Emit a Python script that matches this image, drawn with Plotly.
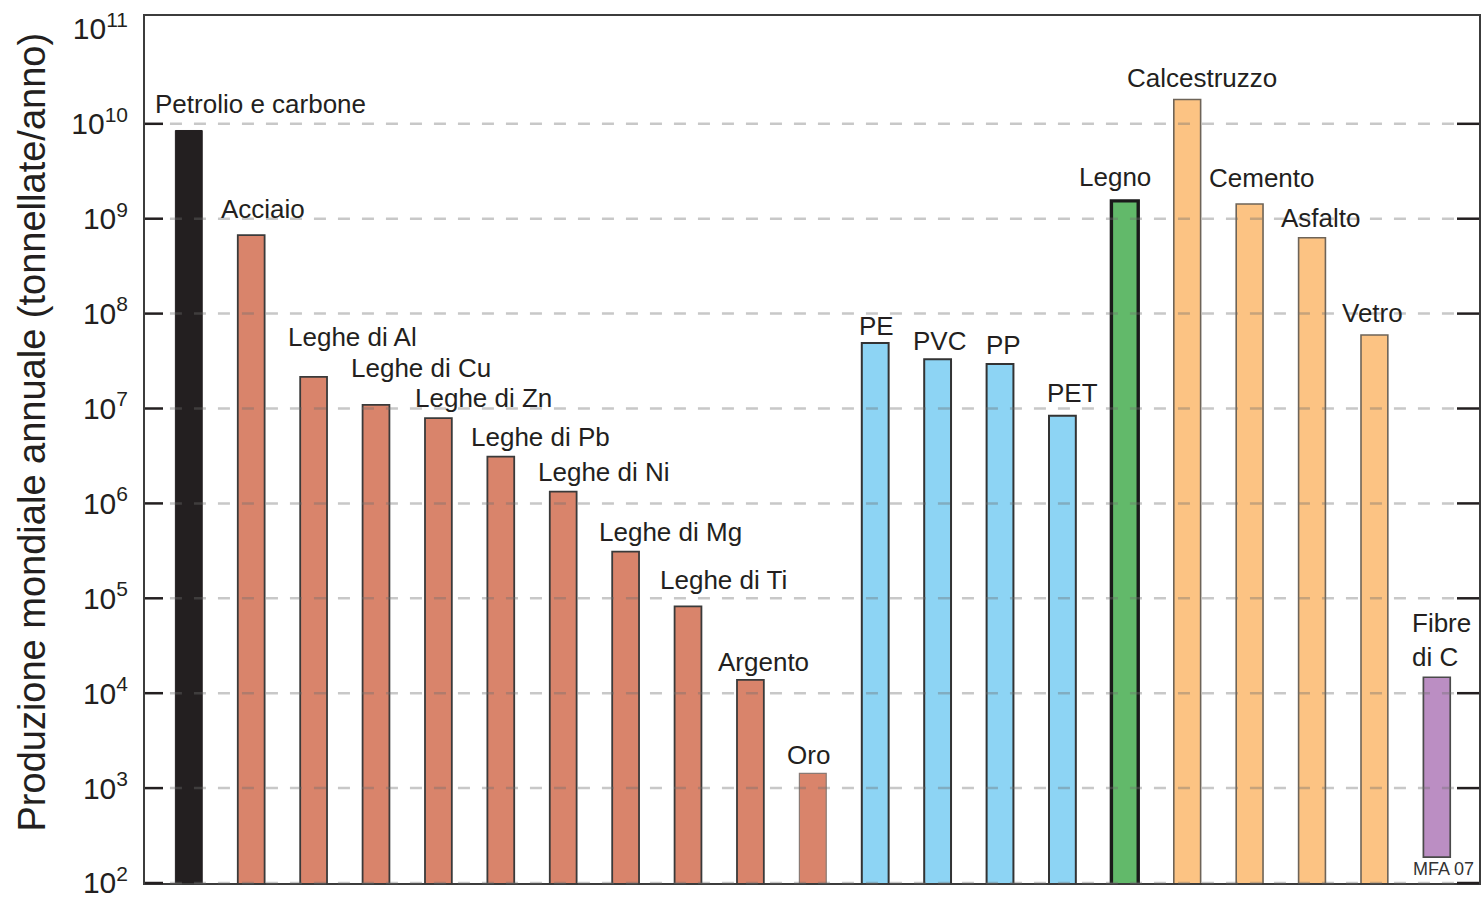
import numpy as np
import plotly.graph_objects as go

# ---------------- data ----------------
categories = ["Petrolio e carbone", "Acciaio", "Leghe di Al", "Leghe di Cu", "Leghe di Zn",
              "Leghe di Pb", "Leghe di Ni", "Leghe di Mg", "Leghe di Ti", "Argento", "Oro",
              "PE", "PVC", "PP", "PET", "Legno", "Calcestruzzo", "Cemento", "Asfalto",
              "Vetro", "Fibre di C"]
values = [8.5e9, 6.7e8, 2.15e7, 1.09e7, 7.9e6, 3.1e6, 1.33e6, 3.1e5, 8.2e4, 1.38e4, 1.43e3,
          4.9e7, 3.3e7, 2.95e7, 8.4e6, 1.54e9, 1.8e10, 1.43e9, 6.3e8, 5.95e7, 1.47e4]
bases = [None] * 20 + [187]
label_texts = ["Petrolio e carbone", "Acciaio", "Leghe di Al", "Leghe di Cu", "Leghe di Zn",
               "Leghe di Pb", "Leghe di Ni", "Leghe di Mg", "Leghe di Ti", "Argento", "Oro",
               "PE", "PVC", "PP", "PET", "Legno", "Calcestruzzo", "Cemento", "Asfalto",
               "Vetro", "Fibre<br>di C"]
tick_exponents = [2, 3, 4, 5, 6, 7, 8, 9, 10, 11]

# ---------------- styles ----------------
BLACK = "#231f20"
SALMON = "#d9846b"
BLUE = "#8dd4f4"
GREEN = "#62b96a"
ORANGE = "#fcc383"
PURPLE = "#bb8ec3"
colors = [BLACK] + [SALMON] * 10 + [BLUE] * 4 + [GREEN] + [ORANGE] * 4 + [PURPLE]
line_colors = [BLACK] + ["#3a3a3a"] * 9 + ["#8a7a74"] + ["#333333"] * 4 + ["#1a1a1a"] + ["#6e6458"] * 4 + ["#4a4a4a"]
line_widths = [1] + [1.8] * 9 + [1.2] + [2] * 4 + [3.4] + [1.6] * 4 + [1.7]

# label offsets in pixels (dx from bar centre, dy above bar top)
label_dx = [72, 12, 39, 45, 45, 40, 41, 45, 35, 13, -4, 1, 2, 3, 10, -10, 15, 12, 9, -2, -27]
label_dy = [26, 26, 40, 37, 20, 20, 20, 20, 26, 18, 18, 17, 18, 19, 23, 24, 22, 26, 20, 22, 37]

FONT = "Liberation Sans, Arial, Helvetica, sans-serif"
Y_MIN, Y_MAX = 2.0, 11.136


def ypaper(e):
    return (e - Y_MIN) / (Y_MAX - Y_MIN)


x = list(range(len(categories)))
y_len = [v - (b or 0) for v, b in zip(values, bases)]
base_arr = [b if b is not None else 0 for b in bases]

fig = go.Figure()
fig.add_trace(go.Bar(
    x=x, y=y_len, base=base_arr,
    width=0.43,
    marker=dict(color=colors, line=dict(color=line_colors, width=line_widths)),
    hovertext=categories, showlegend=False,
))

annotations = []
for i, (v, t) in enumerate(zip(values, label_texts)):
    last = i == len(values) - 1
    annotations.append(dict(x=i, y=np.log10(v), xref="x", yref="y", text=t, showarrow=False,
                            xanchor="left" if last else "center", yanchor="middle",
                            align="left" if last else "center",
                            xshift=label_dx[i], yshift=label_dy[i],
                            font=dict(family=FONT, size=26, color=BLACK)))

# axis title
annotations.append(dict(x=0, y=0.5, xref="paper", yref="paper", xshift=-114, yshift=17,
                        text="Produzione mondiale annuale (tonnellate/anno)", textangle=-90,
                        showarrow=False, xanchor="center", yanchor="middle",
                        font=dict(family=FONT, size=38, color=BLACK)))
# credit
annotations.append(dict(x=1, y=0, xref="paper", yref="paper", xshift=-3, yshift=14,
                        text="MFA 07", showarrow=False, xanchor="right", yanchor="middle",
                        font=dict(family=FONT, size=18, color="#333333")))

shapes = []
for e in tick_exponents[:-1]:
    yp = ypaper(e)
    shapes.append(dict(type="line", xref="paper", yref="paper", x0=0.0187, x1=0.9835, y0=yp, y1=yp,
                       line=dict(color="rgba(110,110,110,0.38)", width=2.5, dash="12px,12px"),
                       layer="above"))
    shapes.append(dict(type="line", xref="paper", yref="paper", x0=0, x1=0.0135, y0=yp, y1=yp,
                       line=dict(color=BLACK, width=2.5), layer="above"))
    shapes.append(dict(type="line", xref="paper", yref="paper", x0=0.9835, x1=1, y0=yp, y1=yp,
                       line=dict(color=BLACK, width=2.5), layer="above"))

fig.update_layout(
    width=1481, height=898,
    margin=dict(l=145, r=2, t=16, b=15, autoexpand=False),
    paper_bgcolor="white", plot_bgcolor="white",
    barmode="overlay",
    annotations=annotations,
    shapes=shapes,
    xaxis=dict(range=[-0.702, 20.676], showline=True, mirror=True, linecolor="#3c3c3c",
               linewidth=2, showticklabels=False, ticks="", showgrid=False, zeroline=False,
               automargin=False),
    yaxis=dict(type="log", range=[Y_MIN - 0.001, Y_MAX], showline=True, mirror=True,
               linecolor="#3c3c3c", linewidth=2, ticks="", showgrid=False, zeroline=False,
               tickvals=[10.0 ** e for e in tick_exponents],
               ticktext=["10<sup>%d</sup>" % e for e in tick_exponents],
               tickfont=dict(family=FONT, size=30, color=BLACK),
               ticklabelstandoff=9, ticklabeloverflow="allow", automargin=False),
)

fig.write_html("out.html")
